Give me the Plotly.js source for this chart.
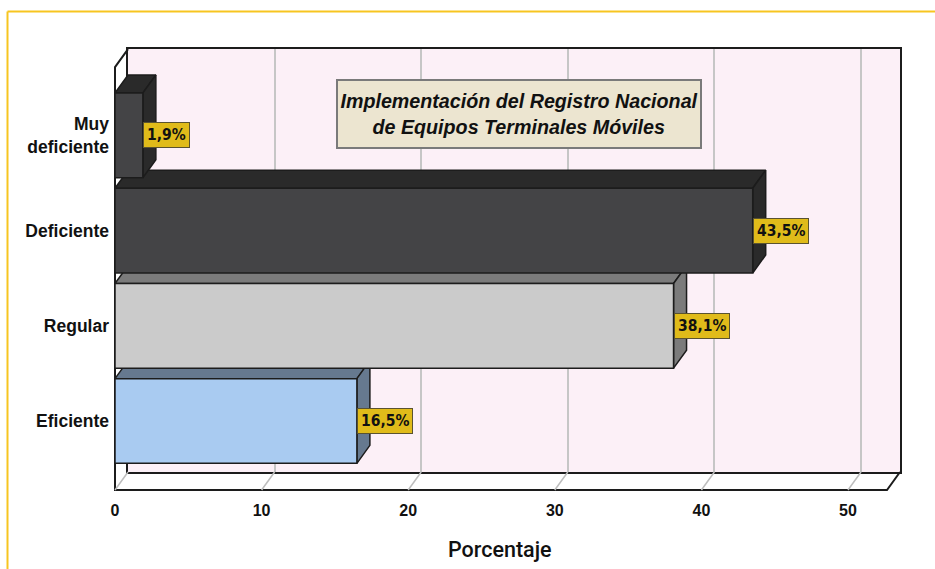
<!DOCTYPE html>
<html>
<head>
<meta charset="utf-8">
<script src="https://cdn.plot.ly/plotly-3.0.1.min.js"></script>
<style>
html,body{margin:0;padding:0;background:#fff;}
#chart{width:935px;height:569px;}
</style>
</head>
<body>
<div id="chart"></div>
<script>
// ---- data ----
const categories = ["Muy<br>deficiente", "Deficiente", "Regular", "Eficiente"];
const percentages = [1.9, 43.5, 38.1, 16.5];
const valueLabels = ["1,9%", "43,5%", "38,1%", "16,5%"];
const xTicks = [0, 10, 20, 30, 40, 50];
const chartTitle = "Implementación del Registro Nacional<br>de Equipos Terminales Móviles";
const xTitle = "Porcentaje";

// ---- styles ----
const frontColors = ["#444446", "#444446", "#cbcbcb", "#a9cbf1"];
const sideColors = ["#2a2a2a", "#2a2a2a", "#7b7b7b", "#66798f"];
const edge = "#1c1c1c";

// ---- geometry (pixels / axis units) ----
const W = 935, H = 569;
const L = 110, R = 904, T = 44, B = 495;           // plot area in px
const X0PX = 115, UNITPX = 14.66, Y0PX = 421, CATPX = 95.2;
const XF = 52.66, DX = 0.887, YB = -0.725, YF = 3.718, DY = 0.189, BARW = 0.89;
const HB = BARW / 2;

const px = v => X0PX + v * UNITPX;
const py = v => Y0PX - v * CATPX;
const paperX = p => (p - L) / (R - L);
const paperY = p => (B - p) / (B - T);

const xRange = [(L - X0PX) / UNITPX, (R - X0PX) / UNITPX];
const yRange = [(Y0PX - B) / CATPX, (Y0PX - T) / CATPX];
const positions = categories.map((c, i) => categories.length - 1 - i);

const traces = [];
// back-wall subplot placeholder
traces.push({type: 'scatter', x: [], y: [], xaxis: 'x', yaxis: 'y', showlegend: false, hoverinfo: 'skip'});

// frame outline (front)
traces.push({
  type: 'scatter', mode: 'lines', xaxis: 'x2', yaxis: 'y2', showlegend: false, hoverinfo: 'skip',
  x: [DX, 0, 0, XF, XF + DX], y: [YF + DY, YF, YB, YB, YB + DY],
  line: {color: edge, width: 2}
});
// floor grid diagonals
const fx = [], fy = [];
xTicks.forEach(t => { fx.push(t, t + DX, null); fy.push(YB, YB + DY, null); });
traces.push({
  type: 'scatter', mode: 'lines', xaxis: 'x2', yaxis: 'y2', showlegend: false, hoverinfo: 'skip',
  x: fx, y: fy, line: {color: '#bdbdbd', width: 1.5}
});

// depth faces (top and right) drawn bottom bar first
for (let i = categories.length - 1; i >= 0; i--) {
  const v = percentages[i], p = positions[i];
  traces.push({
    type: 'scatter', mode: 'lines', fill: 'toself', xaxis: 'x2', yaxis: 'y2', showlegend: false, hoverinfo: 'skip',
    x: [0, v, v + DX, DX, 0], y: [p + HB, p + HB, p + HB + DY, p + HB + DY, p + HB],
    fillcolor: sideColors[i], line: {color: edge, width: 1.5}
  });
  traces.push({
    type: 'scatter', mode: 'lines', fill: 'toself', xaxis: 'x2', yaxis: 'y2', showlegend: false, hoverinfo: 'skip',
    x: [v, v + DX, v + DX, v, v], y: [p - HB, p - HB + DY, p + HB + DY, p + HB, p - HB],
    fillcolor: sideColors[i], line: {color: edge, width: 1.5}
  });
}

// front faces: real bars
traces.push({
  type: 'bar', orientation: 'h', xaxis: 'x3', yaxis: 'y3',
  x: percentages, y: positions, width: BARW,
  marker: {color: frontColors, line: {color: edge, width: 1.5}},
  showlegend: false, hoverinfo: 'skip'
});

const annotations = percentages.map((v, i) => ({
  xref: 'x2', yref: 'y2', x: v, y: positions[i], xanchor: 'left', yanchor: 'middle',
  text: '<b>' + valueLabels[i] + '</b>', showarrow: false,
  font: {family: '"Liberation Sans Narrow", "Arial Narrow", "DejaVu Sans Condensed", sans-serif', size: 15.5, color: '#111'},
  bgcolor: '#e0bb1a', bordercolor: '#5a5330', borderwidth: 1, borderpad: 3
}));
annotations.push({
  xref: 'paper', yref: 'paper', x: paperX(519), y: paperY(114), xanchor: 'center', yanchor: 'middle',
  text: '<b><i>' + chartTitle + '</i></b>', showarrow: false,
  font: {family: '"Liberation Sans", Arial, sans-serif', size: 19.7, color: '#111'},
  bgcolor: '#ece5d0', bordercolor: '#7a7a7a', borderwidth: 2, borderpad: 0,
  width: 362, height: 66
});
annotations.push({
  xref: 'paper', yref: 'paper', x: paperX(500), y: paperY(549), xanchor: 'center', yanchor: 'middle',
  text: xTitle, showarrow: false,
  font: {family: 'Roboto, "Liberation Sans", Arial, sans-serif', size: 21.5, color: '#111', weight: 500}
});

const shapes = [
  {type: 'rect', xref: 'x', yref: 'y', x0: 0, x1: XF, y0: 0, y1: 1, layer: 'below',
   fillcolor: '#fcf0f7', line: {width: 0}},
  {type: 'line', xref: 'paper', yref: 'paper', x0: paperX(7.5), x1: paperX(945), y0: paperY(11.5), y1: paperY(11.5),
   line: {color: '#f7c520', width: 2}},
  {type: 'line', xref: 'paper', yref: 'paper', x0: paperX(7.5), x1: paperX(7.5), y0: paperY(11.5), y1: paperY(580),
   line: {color: '#f7c520', width: 2}}
];

const layout = {
  width: W, height: H,
  margin: {l: L, r: W - R, t: T, b: H - B, pad: 0},
  paper_bgcolor: '#ffffff', plot_bgcolor: 'rgba(0,0,0,0)',
  showlegend: false, dragmode: false,
  // back wall
  xaxis: {
    domain: [paperX(px(DX)), paperX(px(XF + DX))], range: [0, XF], anchor: 'y',
    tickvals: xTicks, showticklabels: false, ticks: '',
    showgrid: true, gridcolor: '#c6c6c6', gridwidth: 2, zeroline: false,
    showline: true, mirror: true, linecolor: edge, linewidth: 2, fixedrange: true
  },
  yaxis: {
    domain: [paperY(py(YB + DY)), paperY(py(YF + DY))], range: [0, 1], anchor: 'x',
    showticklabels: false, ticks: '', showgrid: false, zeroline: false,
    showline: true, mirror: true, linecolor: edge, linewidth: 2, fixedrange: true
  },
  // front frame and labels
  xaxis2: {
    domain: [0, 1], range: xRange, anchor: 'y2',
    tickvals: xTicks, ticks: 'outside', ticklen: 1, tickcolor: 'rgba(0,0,0,0)',
    tickfont: {family: '"Liberation Sans", Arial, sans-serif', size: 16, color: '#111', weight: 'bold'},
    showgrid: false, zeroline: false, showline: false, fixedrange: true
  },
  yaxis2: {
    domain: [0, 1], range: yRange, anchor: 'x2',
    tickvals: positions, ticktext: categories, ticks: '',
    tickfont: {family: '"Liberation Sans", Arial, sans-serif', size: 17.5, color: '#111', weight: 'bold'},
    showgrid: false, zeroline: false, showline: false, fixedrange: true
  },
  // bars overlay
  xaxis3: {overlaying: 'x2', anchor: 'y3', range: xRange, visible: false, fixedrange: true},
  yaxis3: {overlaying: 'y2', anchor: 'x3', range: yRange, visible: false, fixedrange: true},
  annotations: annotations,
  shapes: shapes
};

Plotly.newPlot('chart', traces, layout, {displayModeBar: false, staticPlot: true});
</script>
</body>
</html>
